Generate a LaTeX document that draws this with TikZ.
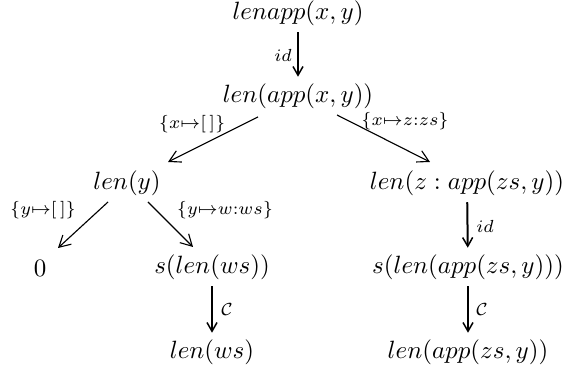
\documentclass[tikz,border=0pt]{standalone}
\usetikzlibrary{calc,arrows.meta}
\begin{document}
\begin{tikzpicture}[x=0.4pt,y=-0.4pt,
  term/.style={inner sep=2.5pt},
  diag/.style={-{Straight Barb[length=4.5pt,width=5pt]},line width=0.45pt},
  vert/.style={-{Straight Barb[length=3.5pt,width=4pt,line width=0.6pt]},line width=0.8pt},
  lab/.style={inner sep=1pt}]
\useasboundingbox (0,0) rectangle (580,371);
\node[term] (t0) at (298,13) {$lenapp(x,y)$};
\node[term] (t1) at (298,96) {$len(app(x,y))$};
\node[term] (ly) at (127,183) {$len(y)$};
\node[term] (lz) at (467,183) {$len(z:app(zs,y))$};
\node[term] (z0) at (40,268) {$0$};
\node[term] (sl) at (212,267) {$s(len(ws))$};
\node[term] (lw) at (212,352) {$len(ws)$};
\node[term] (sa) at (468,267) {$s(len(app(zs,y)))$};
\node[term] (la) at (468,352) {$len(app(zs,y))$};

\draw[vert] (t0) -- (t1);
\node[lab] (l1) at (283,55) {$\scriptstyle id$};
\draw[diag] ($(t1)+(-40,21)$) -- ($(ly)+(41,-21)$);
\node[lab] (l2) at (192,124) {$\scriptstyle\{x\mapsto[\,]\}$};
\draw[diag] ($(t1)+(39,19)$) -- ($(lz)+(-37,-21)$);
\node[lab] (l3) at (405,121) {$\scriptstyle\{x\mapsto z:zs\}$};
\draw[diag] ($(ly)+(-19,19)$) -- ($(z0)+(18,-20)$);
\node[lab] (l4) at (43,210) {$\scriptstyle\{y\mapsto[\,]\}$};
\draw[diag] ($(ly)+(21,19)$) -- ($(sl)+(-19,-20)$);
\node[lab] (l5) at (225,210) {$\scriptstyle\{y\mapsto w:ws\}$};
\draw[vert] (lz) -- (sa);
\node[lab] (l6) at (485,226) {$\scriptstyle id$};
\draw[vert] (sl) -- (lw);
\node[lab] (l7) at (227,310) {$\scriptstyle\mathcal{C}$};
\draw[vert] (sa) -- (la);
\node[lab] (l8) at (482,310) {$\scriptstyle\mathcal{C}$};
\end{tikzpicture}
\end{document}
